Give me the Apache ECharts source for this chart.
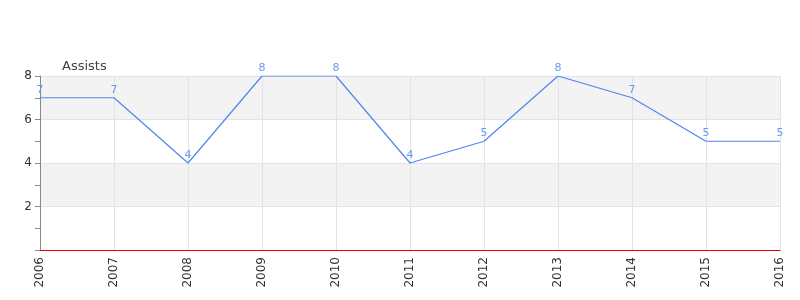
<!DOCTYPE html>
<html><head><meta charset="utf-8">
<script src="https://cdn.jsdelivr.net/npm/echarts@6/dist/echarts.min.js"></script>
<style>html,body{margin:0;padding:0;background:#fff}#c{width:800px;height:300px}</style>
</head><body><div id="c"></div>
<script>
const categories = ['2006','2007','2008','2009','2010','2011','2012','2013','2014','2015','2016'];
const assists = [7,7,4,8,8,4,5,8,7,5,5];
const seriesName = 'Assists';

const chart = echarts.init(document.getElementById('c'), null, {renderer:'canvas'});
chart.setOption({
  animation:false,
  title:{text:seriesName,left:57,top:55,textStyle:{fontSize:13,fontWeight:'normal',color:'#444',fontFamily:'DejaVu Sans'}},
  grid:{left:40,right:20,top:76,bottom:50},
  xAxis:{type:'category',data:categories,boundaryGap:false,offset:1,
    axisLine:{lineStyle:{color:'#444',width:1}},
    axisTick:{show:false},
    axisLabel:{rotate:90,fontSize:12,color:'#333',fontFamily:'DejaVu Sans',margin:6},
    splitLine:{show:true,lineStyle:{color:'#e3e3e3'}}},
  yAxis:{type:'value',min:0,max:8,interval:2,
    axisLine:{show:true,lineStyle:{color:'#888'}},
    axisTick:{show:true,length:5,lineStyle:{color:'#888'}},
    minorTick:{show:true,splitNumber:2,length:5,lineStyle:{color:'#888'}},
    axisLabel:{fontSize:12,color:'#333',fontFamily:'DejaVu Sans',margin:8,
      formatter:v=>v===0?'':String(v)},
    splitLine:{show:true,lineStyle:{color:'#e3e3e3'}},
    splitArea:{show:true,areaStyle:{color:['#ffffff','#f3f3f3']}}},
  series:[{type:'line',name:seriesName,data:assists,
    symbol:'circle',symbolSize:1,itemStyle:{color:'rgba(0,0,0,0)'},
    lineStyle:{color:'#4f86ec',width:1.2},
    label:{show:true,position:'top',distance:2,color:'#6a9af0',fontSize:11,fontFamily:'DejaVu Sans'},
    markLine:{silent:true,symbol:'none',label:{show:false},
      lineStyle:{color:'#e00000',type:'solid',width:1},
      data:[{yAxis:0}]}}]
});
</script></body></html>
